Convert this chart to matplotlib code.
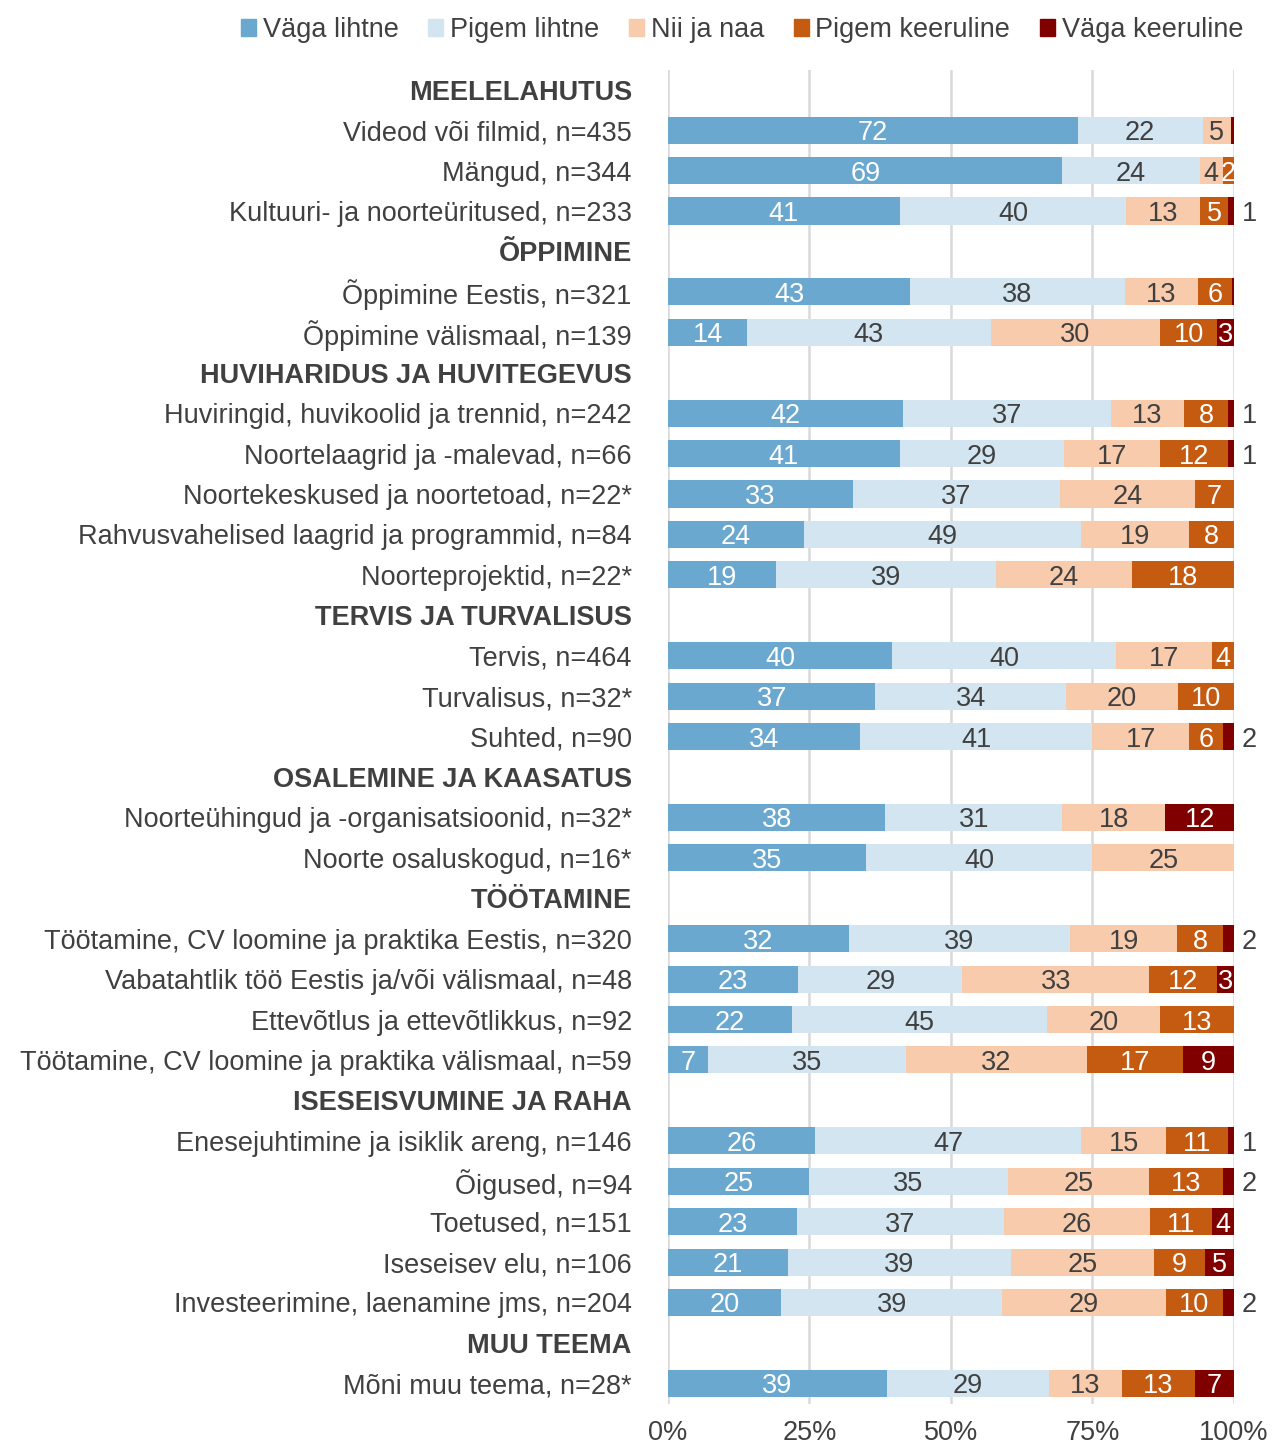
import numpy as np
import matplotlib.pyplot as plt
from matplotlib.patches import Patch

plt.rcParams['font.family'] = ['Liberation Sans', 'DejaVu Sans']

series = ['Väga lihtne', 'Pigem lihtne', 'Nii ja naa', 'Pigem keeruline', 'Väga keeruline']
colors = ['#6AA8D0', '#D2E5F1', '#F8CBAD', '#C55A11', '#800000']
text_colors = ['white', '#404040', '#404040', 'white', 'white']

# rows: header rows have None as values
labels = [
    'MEELELAHUTUS',
    'Videod või filmid, n=435',
    'Mängud, n=344',
    'Kultuuri- ja noorteüritused, n=233',
    'ÕPPIMINE',
    'Õppimine Eestis, n=321',
    'Õppimine välismaal, n=139',
    'HUVIHARIDUS JA HUVITEGEVUS',
    'Huviringid, huvikoolid ja trennid, n=242',
    'Noortelaagrid ja -malevad, n=66',
    'Noortekeskused ja noortetoad, n=22*',
    'Rahvusvahelised laagrid ja programmid, n=84',
    'Noorteprojektid, n=22*',
    'TERVIS JA TURVALISUS',
    'Tervis, n=464',
    'Turvalisus, n=32*',
    'Suhted, n=90',
    'OSALEMINE JA KAASATUS',
    'Noorteühingud ja -organisatsioonid, n=32*',
    'Noorte osaluskogud, n=16*',
    'TÖÖTAMINE',
    'Töötamine, CV loomine ja praktika Eestis, n=320',
    'Vabatahtlik töö Eestis ja/või välismaal, n=48',
    'Ettevõtlus ja ettevõtlikkus, n=92',
    'Töötamine, CV loomine ja praktika välismaal, n=59',
    'ISESEISVUMINE JA RAHA',
    'Enesejuhtimine ja isiklik areng, n=146',
    'Õigused, n=94',
    'Toetused, n=151',
    'Iseseisev elu, n=106',
    'Investeerimine, laenamine jms, n=204',
    'MUU TEEMA',
    'Mõni muu teema, n=28*',
]

vaga_lihtne = [None, 72, 69, 41, None, 43, 14, None, 42, 41, 33, 24, 19, None, 40, 37, 34,
               None, 38, 35, None, 32, 23, 22, 7, None, 26, 25, 23, 21, 20, None, 39]
pigem_lihtne = [None, 22, 24, 40, None, 38, 43, None, 37, 29, 37, 49, 39, None, 40, 34, 41,
                None, 31, 40, None, 39, 29, 45, 35, None, 47, 35, 37, 39, 39, None, 29]
nii_ja_naa = [None, 5, 4, 13, None, 13, 30, None, 13, 17, 24, 19, 24, None, 17, 20, 17,
              None, 18, 25, None, 19, 33, 20, 32, None, 15, 25, 26, 25, 29, None, 13]
pigem_keeruline = [None, 0, 2, 5, None, 6, 10, None, 8, 12, 7, 8, 18, None, 4, 10, 6,
                   None, 0, 0, None, 8, 12, 13, 17, None, 11, 13, 11, 9, 10, None, 13]
vaga_keeruline = [None, 0.5, 0, 1, None, 0.4, 3, None, 1, 1, 0, 0, 0, None, 0, 0, 2,
                  None, 12, 0, None, 2, 3, 0, 9, None, 1, 2, 4, 5, 2, None, 7]

data = [vaga_lihtne, pigem_lihtne, nii_ja_naa, pigem_keeruline, vaga_keeruline]

FS = 19.5

fig = plt.figure(figsize=(12.74, 14.48), dpi=100)
ax = fig.add_axes([0.5243, 0.0307, 0.4443, 0.9213])

rows = np.arange(len(labels))
is_header = [v is None for v in vaga_lihtne]

vals = np.array([[0 if v is None else v for v in s] for s in data], dtype=float)
totals = vals.sum(axis=0)
totals[totals == 0] = 1
pct = vals / totals * 100

left = np.zeros(len(labels))
for i in range(len(series)):
    ax.barh(rows, pct[i], left=left, height=0.67, color=colors[i], zorder=2)
    for r in rows:
        v = vals[i][r]
        if is_header[r] or v < 1:
            continue
        if i == 4 and v < 3:
            ax.text(101.4, r, '%d' % v, ha='left', va='center_baseline', fontsize=FS,
                    color='#404040')
        else:
            ax.text(left[r] + pct[i][r] / 2, r, '%d' % v, ha='center', va='center_baseline',
                    fontsize=FS, color=text_colors[i], zorder=3)
    left += pct[i]

ax.set_ylim(len(labels) - 0.5, -0.5)
ax.set_xlim(0, 100)
ax.set_yticks(rows)
ax.set_yticklabels(labels, fontsize=FS, color='#404040')
for t, h in zip(ax.get_yticklabels(), is_header):
    if h:
        t.set_fontweight('bold')
ax.tick_params(axis='y', length=0, pad=26)
ax.set_xticks([0, 25, 50, 75, 100])
ax.set_xticklabels(['0%', '25%', '50%', '75%', '100%'], fontsize=FS, color='#404040')
ax.tick_params(axis='x', length=0, pad=12)
for x in [0, 25, 50, 75, 100]:
    ax.axvline(x, color='#D9D9D9', lw=1.8, zorder=1)
for s in ax.spines.values():
    s.set_visible(False)

handles = [Patch(color=c, label=s) for c, s in zip(colors, series)]
fig.legend(handles=handles, loc='upper right', bbox_to_anchor=(0.995, 1.005), ncol=5,
           frameon=False, fontsize=FS, handlelength=0.55, handleheight=0.55,
           handletextpad=0.25, columnspacing=1.1, labelcolor='#404040')

plt.savefig('out.png', dpi=100)
